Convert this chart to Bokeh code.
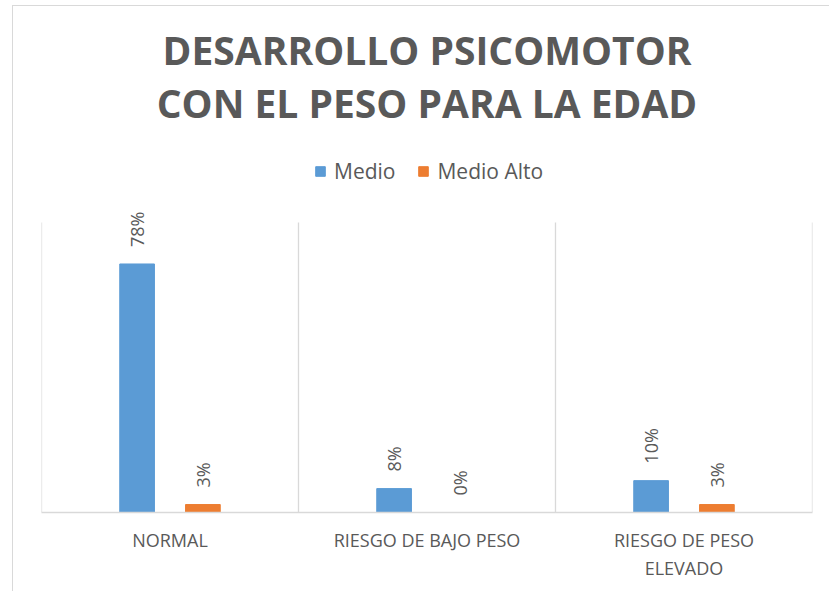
import math
from bokeh.plotting import figure
from bokeh.models import ColumnDataSource, FactorRange, Range1d, Legend, LegendItem, Label
from bokeh.transform import dodge
from bokeh.core.properties import value
from bokeh.embed import file_html
from bokeh.resources import INLINE

categories = ["NORMAL", "RIESGO DE BAJO PESO", "RIESGO DE PESO\nELEVADO"]
medio = [0.78, 0.075, 0.10]
medio_alto = [0.025, 0.0, 0.025]
medio_labels = ["78%", "8%", "10%"]
medio_alto_labels = ["3%", "0%", "3%"]
series_names = ["Medio", "Medio Alto"]
title_lines = ["DESARROLLO PSICOMOTOR", "CON EL PESO PARA LA EDAD"]
value_axis_max = 0.91          # top of the value area (where dividers end)
divider_positions = [0, 1, 2, 3]  # category boundaries on the factor axis

BLUE = "#5B9BD5"
ORANGE = "#ED7D31"
GRAY_TXT = "#595959"
GRID = "#D9D9D9"

FRAME_H = 505
PX_PER_UNIT = 318.0
YTOP = FRAME_H / PX_PER_UNIT

def px_to_y(px_above_base):
    return px_above_base / PX_PER_UNIT

src = ColumnDataSource(dict(cat=categories, medio=medio, medio_alto=medio_alto,
                            ml=medio_labels, mal=medio_alto_labels))

p = figure(x_range=FactorRange(*categories), y_range=Range1d(0, YTOP),
           width=817, height=586,
           min_border_left=28, min_border_right=18, min_border_top=0, min_border_bottom=80,
           output_backend="svg", toolbar_location=None, title=None)
p.styles = {"border-left": "1px solid #d9d9d9", "border-top": "1px solid #d9d9d9",
            "margin-left": "12px", "margin-top": "5px"}

# category dividers
p.segment(x0=divider_positions, x1=divider_positions, y0=[0] * len(divider_positions),
          y1=[value_axis_max] * len(divider_positions), line_color=GRID, line_width=1.3)

for line, px_above in zip(title_lines, [462, 409]):
    p.add_layout(Label(x=1.5, y=px_to_y(px_above), text=line, text_align="center",
                       text_baseline="alphabetic", text_font="Open Sans", text_font_size="39px",
                       text_font_style="bold", text_color=GRAY_TXT))

off = 0.128
w = 0.135
r1 = p.vbar(x=dodge("cat", -off, range=p.x_range), top="medio", width=w, source=src, color=BLUE)
r2 = p.vbar(x=dodge("cat", off, range=p.x_range), top="medio_alto", width=w, source=src, color=ORANGE)

for xo, col, lab in [(-off, "medio", "ml"), (off, "medio_alto", "mal")]:
    p.text(x=dodge("cat", xo, range=p.x_range), y=col, text=lab, source=src,
           angle=math.pi / 2, text_align="left", text_baseline="middle",
           y_offset=-17, text_font=value("Open Sans"), text_font_size="18px",
           text_color=GRAY_TXT)

legend = Legend(items=[LegendItem(label=series_names[0], renderers=[r1]),
                       LegendItem(label=series_names[1], renderers=[r2])],
                orientation="horizontal", location=(273, 327),
                label_text_font="Open Sans", label_text_font_size="21px",
                label_text_color=GRAY_TXT, glyph_width=12, glyph_height=12,
                spacing=22, label_standoff=8, border_line_color=None,
                background_fill_alpha=0, padding=0, margin=0)
p.add_layout(legend, "center")

p.yaxis.visible = False
p.ygrid.visible = False
p.xgrid.visible = False
p.xaxis.axis_line_color = GRID
p.xaxis.axis_line_width = 1.3
p.xaxis.major_tick_line_color = None
p.xaxis.minor_tick_line_color = None
p.xaxis.major_label_text_font = "Open Sans"
p.xaxis.major_label_text_font_size = "18px"
p.xaxis.major_label_text_color = GRAY_TXT
p.xaxis.major_label_standoff = 9
p.outline_line_color = None
p.background_fill_color = "white"
p.border_fill_color = "white"

open("out.html", "w").write(file_html(p, INLINE))
